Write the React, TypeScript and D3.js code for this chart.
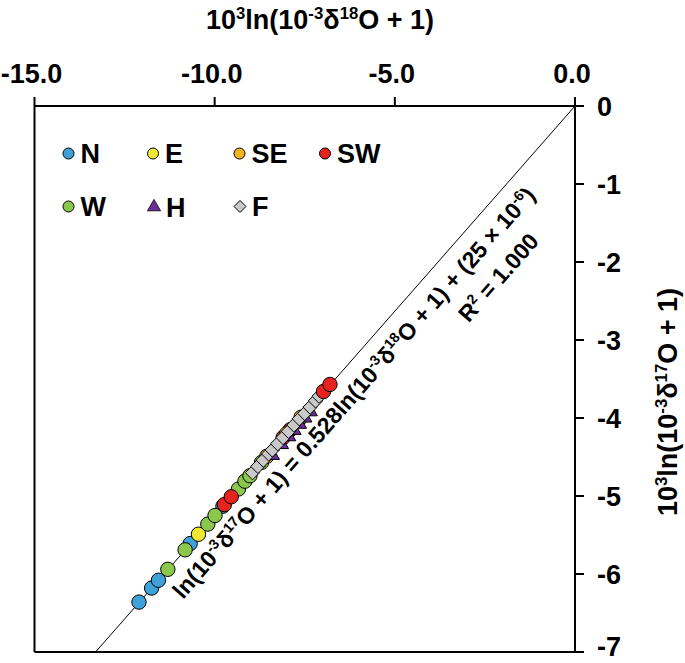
import React from "react";
import * as d3 from "d3";

// ---- data (10^3 ln(10^-3 δ18O + 1), 10^3 ln(10^-3 δ17O + 1)) ----
const nX = [-12.1, -11.75, -11.56, -10.68, -9.77];
const nY = [-6.36, -6.18, -6.08, -5.61, -5.13];
const eX = [-10.45];
const eY = [-5.49];
const seX = [-8.55, -8.0, -7.6];
const seY = [-4.49, -4.2, -3.99];
const swX = [-9.73, -9.54, -8.1, -7.9, -6.98, -6.8];
const swY = [-5.11, -5.01, -4.25, -4.15, -3.66, -3.57];
const wX = [-11.3, -10.82, -10.19, -9.99, -9.34, -9.16, -9.02, -8.7];
const wY = [-5.94, -5.69, -5.36, -5.25, -4.91, -4.81, -4.74, -4.57];
const hX = [-8.45, -8.2, -8.0, -7.85, -7.7, -7.55, -7.4];
const hY = [-4.48, -4.34, -4.24, -4.16, -4.08, -4.0, -3.92];
const fX = [-8.95, -8.8, -8.65, -8.5, -8.4, -8.25, -8.1, -7.95, -7.8, -7.65, -7.5, -7.35, -7.2, -7.1];
const fY = [-4.7, -4.62, -4.54, -4.46, -4.41, -4.33, -4.25, -4.17, -4.09, -4.01, -3.94, -3.86, -3.78, -3.72];

const xTicks = [-15, -10, -5, 0];
const xTickLabels = ["-15.0", "-10.0", "-5.0", "0.0"];
const yTicks = [0, -1, -2, -3, -4, -5, -6, -7];
const yTickLabels = ["0", "-1", "-2", "-3", "-4", "-5", "-6", "-7"];

const slope = 0.528;
const intercept = 0.025;

const COLORS = {
  N: "#3ea2d9",
  E: "#f1e733",
  SE: "#f3b421",
  SW: "#e5241f",
  W: "#8cc74d",
  H: "#6b2e98",
  F: "#c9c9c9",
};

const FONT = "'Liberation Sans', Arial, Helvetica, sans-serif";

export default function App() {
  const W = 685;
  const H = 663;
  const x = d3.scaleLinear().domain([-15, 0]).range([34.5, 575]);
  const y = d3.scaleLinear().domain([-7, 0]).range([652, 106]);

  const early = [
    { k: "N", xs: nX, ys: nY },
    { k: "E", xs: eX, ys: eY },
    { k: "W", xs: wX, ys: wY },
    { k: "SW", xs: swX.slice(0, 4), ys: swY.slice(0, 4) },
    { k: "SE", xs: seX, ys: seY },
  ];
  const late = [{ k: "SW", xs: swX.slice(4), ys: swY.slice(4) }];

  const tri = d3.symbol().type(d3.symbolTriangle).size(85);
  const triL = d3.symbol().type(d3.symbolTriangle).size(75);
  const dia = (cx: number, cy: number, r: number) =>
    `M${cx},${cy - r}L${cx + r},${cy}L${cx},${cy + r}L${cx - r},${cy}Z`;

  const xStart = (-7 - intercept) / slope;
  const lineX = [xStart, 0];

  const rot = -(Math.atan((slope * (546 / 7)) / (540.5 / 15)) * 180) / Math.PI;

  const sup = (t: string, fs: number) => (
    <tspan fontSize={fs * 0.62} dy={-fs * 0.38}>{t}</tspan>
  );
  const down = (t: string, fs: number) => (
    <tspan dy={fs * 0.38}>{t}</tspan>
  );

  const legendItems = [
    { k: "N", cx: 68.5, cy: 153.5, shape: "c" },
    { k: "E", cx: 153, cy: 153.5, shape: "c" },
    { k: "SE", cx: 239.5, cy: 153.5, shape: "c" },
    { k: "SW", cx: 325, cy: 153.5, shape: "c" },
    { k: "W", cx: 68.5, cy: 206.5, shape: "c" },
    { k: "H", cx: 154, cy: 207, shape: "t" },
    { k: "F", cx: 240, cy: 206.5, shape: "d" },
  ];

  const tfs = 27;
  const lfs = 27;
  const efs = 23;

  const R = 7.2;

  return (
    <svg
      width={W}
      height={H}
      style={{ position: "absolute", left: 0, top: 0, background: "#fff" }}
      fontFamily={FONT}
      fontWeight="bold"
    >
      <rect width={W} height={H} fill="#fff" />
      {/* frame */}
      <g stroke="#000" strokeWidth={2} fill="none">
        <line x1={x(-15)} x2={x(0)} y1={y(0)} y2={y(0)} />
        <line x1={x(-15)} x2={x(0)} y1={y(-7)} y2={y(-7)} />
        <line x1={x(-15)} x2={x(-15)} y1={y(0)} y2={y(-7)} />
        <line x1={x(0)} x2={x(0)} y1={y(0)} y2={y(-7)} />
        {xTicks.map((t) => (
          <line key={"xt" + t} x1={x(t)} x2={x(t)} y1={y(0)} y2={y(0) - 9} />
        ))}
        {yTicks.map((t) => (
          <line key={"yt" + t} x1={x(0)} x2={x(0) + 9} y1={y(t)} y2={y(t)} />
        ))}
      </g>
      {xTicks.map((t, i) => (
        <text key={"xl" + t} x={x(t) - 3} y={83} textAnchor="middle" fontSize={tfs}>
          {xTickLabels[i]}
        </text>
      ))}
      {yTicks.map((t, i) => (
        <text key={"yl" + t} x={597} y={Math.min(y(t) + 9.5, 656)} textAnchor="start" fontSize={tfs}>
          {yTickLabels[i]}
        </text>
      ))}
      {/* axis titles */}
      <text x={320} y={29} textAnchor="middle" fontSize={tfs}>
        10{sup("3", tfs)}
        {down("ln(10", tfs)}
        {sup("-3", tfs)}
        {down("δ", tfs)}
        {sup("18", tfs)}
        {down("O + 1)", tfs)}
      </text>
      <text
        transform={`translate(677,402) rotate(-90)`}
        textAnchor="middle"
        fontSize={tfs}
      >
        10{sup("3", tfs)}
        {down("ln(10", tfs)}
        {sup("-3", tfs)}
        {down("δ", tfs)}
        {sup("17", tfs)}
        {down("O + 1)", tfs)}
      </text>

      {/* regression line */}
      <line
        x1={x(lineX[0])}
        y1={y(slope * lineX[0] + intercept)}
        x2={x(lineX[1])}
        y2={y(Math.min(0, slope * lineX[1] + intercept))}
        stroke="#000"
        strokeWidth={1}
      />

      {/* data */}
      <g stroke="#000" strokeWidth={1}>
        {early.map((s) =>
          s.xs.map((v, i) => (
            <circle key={s.k + "e" + i} cx={x(v)} cy={y(s.ys[i])} r={R} fill={(COLORS as any)[s.k]} />
          ))
        )}
        {hX.map((v, i) => (
          <path key={"h" + i} d={tri() as string} transform={`translate(${x(v) + 2},${y(hY[i])})`} fill={COLORS.H} />
        ))}
        {fX.map((v, i) => (
          <path key={"f" + i} d={dia(x(v), y(fY[i]), 7.2)} fill={COLORS.F} />
        ))}
        {late.map((s) =>
          s.xs.map((v, i) => (
            <circle key={s.k + "l" + i} cx={x(v)} cy={y(s.ys[i])} r={R} fill={(COLORS as any)[s.k]} />
          ))
        )}
      </g>

      {/* equation */}
      <g transform={`translate(183,600) rotate(${rot})`} fontSize={efs}>
        <text x={0} y={0}>
          ln(10{sup("-3", efs)}
          {down("δ", efs)}
          {sup("17", efs)}
          {down("O + 1) = 0.528ln(10", efs)}
          {sup("-3", efs)}
          {down("δ", efs)}
          {sup("18", efs)}
          {down("O + 1) + (25 × 10", efs)}
          {sup("-6", efs)}
          {down(")", efs)}
        </text>
      </g>
      <g transform={`translate(540,242) rotate(${rot})`} fontSize={efs}>
        <text x={0} y={0} textAnchor="end">
          R{sup("2", efs)}
          {down(" = 1.000", efs)}
        </text>
      </g>

      {/* legend */}
      <g>
        {legendItems.map((it) => (
          <g key={it.k}>
            {it.shape === "c" && (
              <circle cx={it.cx} cy={it.cy} r={5.5} fill={(COLORS as any)[it.k]} stroke="#000" strokeWidth={1} />
            )}
            {it.shape === "t" && (
              <path d={triL() as string} transform={`translate(${it.cx},${it.cy})`} fill={COLORS.H} stroke="#000" strokeWidth={0.8} />
            )}
            {it.shape === "d" && (
              <path d={dia(it.cx, it.cy, 6)} fill={COLORS.F} stroke="#000" strokeWidth={1} />
            )}
            <text x={it.cx + 12} y={it.cy + 9.5} fontSize={lfs}>
              {it.k}
            </text>
          </g>
        ))}
      </g>
    </svg>
  );
}
